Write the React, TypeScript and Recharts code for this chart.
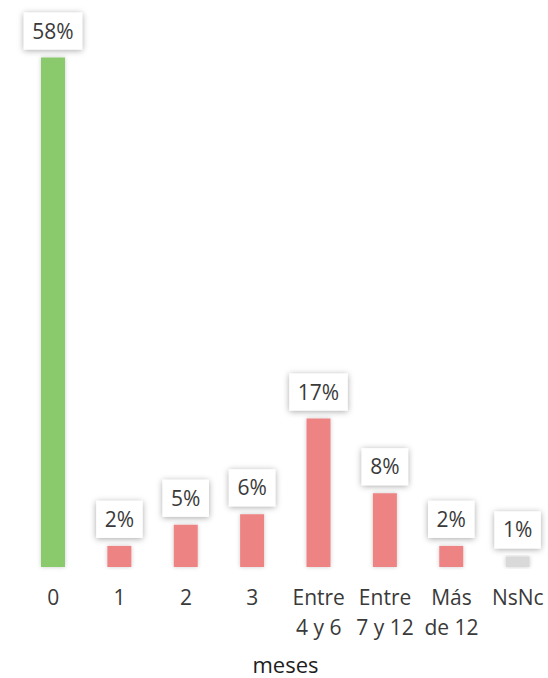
import { BarChart, Bar, XAxis, YAxis, Cell, LabelList } from "recharts";

const categories = ["0", "1", "2", "3", "Entre\n4 y 6", "Entre\n7 y 12", "Más\nde 12", "NsNc"];
const percentages = [58, 2.4, 4.8, 6.0, 16.9, 8.4, 2.4, 1.2];
const barColors = ["#8BCA6C", "#EE8383", "#EE8383", "#EE8383", "#EE8383", "#EE8383", "#EE8383", "#D9D9D9"];

const data = categories.map((name, i) => ({ name, value: percentages[i] }));

const FONT = "'Open Sans', sans-serif";

let ctx: CanvasRenderingContext2D | null = null;
function textWidth(s: string, size: number) {
  if (!ctx) ctx = document.createElement("canvas").getContext("2d");
  if (!ctx) return s.length * size * 0.6;
  ctx.font = `${size}px 'Open Sans'`;
  return ctx.measureText(s).width;
}

function ValueBox(props: any) {
  const { x, y, width, value } = props;
  const label = `${Math.round(value)}%`;
  const w = textWidth(label, 21) + 17;
  const h = 37;
  const cx = x + width / 2;
  const bottom = y - 8;
  return (
    <g>
      <rect x={cx - w / 2} y={bottom - h} width={w} height={h} fill="#fff" filter="url(#boxShadow)" />
      <text x={cx} y={bottom - 11} textAnchor="middle" fontFamily={FONT} fontSize={21} fill="#3a3a3a">
        {label}
      </text>
    </g>
  );
}

function MonthTick(props: any) {
  const { x, y, payload } = props;
  const lines = String(payload.value).split("\n");
  return (
    <text x={x} y={y} textAnchor="middle" fontFamily={FONT} fontSize={21} fill="#3a3a3a">
      {lines.map((l, i) => (
        <tspan key={i} x={x} y={y + 38 + i * 30}>
          {l}
        </tspan>
      ))}
    </text>
  );
}

export default function App() {
  return (
    <div style={{ position: "fixed", left: 0, top: 0, width: 548, height: 678, overflow: "hidden", background: "#fff" }}>
      <BarChart width={552} height={678} data={data} margin={{ top: 40, right: 1, left: 20, bottom: 0 }}>
        <defs>
          <filter id="boxShadow" x="-30%" y="-30%" width="160%" height="160%">
            <feDropShadow dx="0" dy="1" stdDeviation="3" floodColor="#000" floodOpacity="0.35" />
          </filter>
          <filter id="barShadow" x="-40%" y="-10%" width="180%" height="120%">
            <feDropShadow dx="0" dy="0" stdDeviation="2" floodColor="#000" floodOpacity="0.2" />
          </filter>
        </defs>
        <YAxis hide domain={[0, 60]} />
        <XAxis
          dataKey="name"
          interval={0}
          axisLine={false}
          tickLine={false}
          tickSize={0}
          tickMargin={0}
          height={111}
          tick={<MonthTick />}
          label={{ value: "meses", position: "insideBottom", offset: 5, fontFamily: FONT, fontSize: 22, fill: "#1e1e1e" }}
        />
        <Bar dataKey="value" barSize={24} isAnimationActive={false} filter="url(#barShadow)">
          {data.map((d, i) => (
            <Cell key={d.name} fill={barColors[i]} />
          ))}
          <LabelList dataKey="value" content={<ValueBox />} />
        </Bar>
      </BarChart>
    </div>
  );
}
